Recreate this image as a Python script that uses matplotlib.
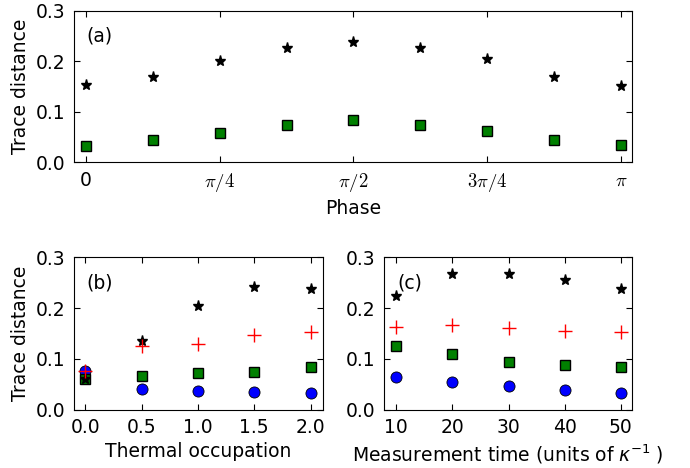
import numpy as np
import matplotlib
matplotlib.use("Agg")
import matplotlib.pyplot as plt

# (a) trace distance vs phase
phase = np.arange(9) * np.pi / 8
a_star = [0.153, 0.168, 0.201, 0.227, 0.238, 0.226, 0.204, 0.168, 0.151]
a_square = [0.033, 0.045, 0.059, 0.075, 0.084, 0.074, 0.062, 0.045, 0.034]
phase_ticks = [0, np.pi / 4, np.pi / 2, 3 * np.pi / 4, np.pi]
phase_labels = ["0", r"$\pi/4$", r"$\pi/2$", r"$3\pi/4$", r"$\pi$"]

# (b) trace distance vs thermal occupation
nth = [0.0, 0.5, 1.0, 1.5, 2.0]
b_star = [0.061, 0.135, 0.205, 0.241, 0.238]
b_plus = [0.076, 0.125, 0.129, 0.146, 0.153]
b_square = [0.061, 0.067, 0.071, 0.074, 0.083]
b_circle = [0.076, 0.041, 0.037, 0.034, 0.033]

# (c) trace distance vs measurement time
tmeas = [10, 20, 30, 40, 50]
c_star = [0.224, 0.267, 0.268, 0.255, 0.238]
c_plus = [0.162, 0.167, 0.160, 0.155, 0.153]
c_square = [0.125, 0.109, 0.093, 0.088, 0.083]
c_circle = [0.064, 0.055, 0.046, 0.039, 0.033]

FS = 13.5

plt.rcParams['font.family'] = 'DejaVu Sans'
plt.rcParams['font.size'] = FS
plt.rcParams['xtick.direction'] = 'in'
plt.rcParams['ytick.direction'] = 'in'
plt.rcParams['xtick.top'] = True
plt.rcParams['ytick.right'] = True
plt.rcParams['xtick.major.size'] = 4
plt.rcParams['ytick.major.size'] = 4
plt.rcParams['xtick.major.pad'] = 6
plt.rcParams['ytick.major.pad'] = 6

fig = plt.figure(figsize=(6.9, 4.68), dpi=100)
ax_a = fig.add_axes([0.1072, 0.6528, 0.8087, 0.3244])
ax_b = fig.add_axes([0.1072, 0.125, 0.3609, 0.3252])
ax_c = fig.add_axes([0.5565, 0.125, 0.3594, 0.3252])


def star(ax, x, y):
    ax.plot(x, y, '*', color='k', ms=8, mec='k', ls='none')


def square(ax, x, y):
    ax.plot(x, y, 's', color='g', ms=7.5, mec='k', mew=1, ls='none')


def circle(ax, x, y):
    ax.plot(x, y, 'o', color='b', ms=8, mec='k', mew=0.6, ls='none')


def plus(ax, x, y):
    ax.plot(x, y, '+', color='r', ms=10, mew=1, ls='none')


star(ax_a, phase, a_star)
square(ax_a, phase, a_square)
ax_a.set_xlim(-0.07, np.pi + 0.065)
ax_a.set_xticks(phase_ticks)
ax_a.set_xticklabels(phase_labels)
for lab in ax_a.get_xticklabels()[1:]:
    lab.set_math_fontfamily('cm')
ax_a.set_xlabel("Phase", fontsize=FS)
ax_a.set_ylabel("Trace distance", fontsize=FS)
ax_a.text(0, 0.25, "(a)", va='center', fontsize=FS)

circle(ax_b, nth, b_circle)
square(ax_b, nth, b_square)
star(ax_b, nth, b_star)
plus(ax_b, nth, b_plus)
ax_b.set_xlim(-0.1, 2.11)
ax_b.set_xticks([0.0, 0.5, 1.0, 1.5, 2.0])
ax_b.set_xlabel("Thermal occupation", fontsize=FS)
ax_b.set_ylabel("Trace distance", fontsize=FS)
ax_b.text(0.01, 0.25, "(b)", va='center', fontsize=FS)

circle(ax_c, tmeas, c_circle)
square(ax_c, tmeas, c_square)
star(ax_c, tmeas, c_star)
plus(ax_c, tmeas, c_plus)
ax_c.set_xlim(7.8, 52)
ax_c.set_xticks(tmeas)
ax_c.set_xlabel(r"Measurement time (units of $\kappa^{-1}\;$)", fontsize=FS)
ax_c.text(10.2, 0.25, "(c)", va='center', fontsize=FS)

for ax in (ax_a, ax_b, ax_c):
    ax.set_ylim(0, 0.3)
    ax.set_yticks([0.0, 0.1, 0.2, 0.3])
    ax.set_yticklabels(["0.0", "0.1", "0.2", "0.3"])

fig.savefig("out.png", dpi=100)
